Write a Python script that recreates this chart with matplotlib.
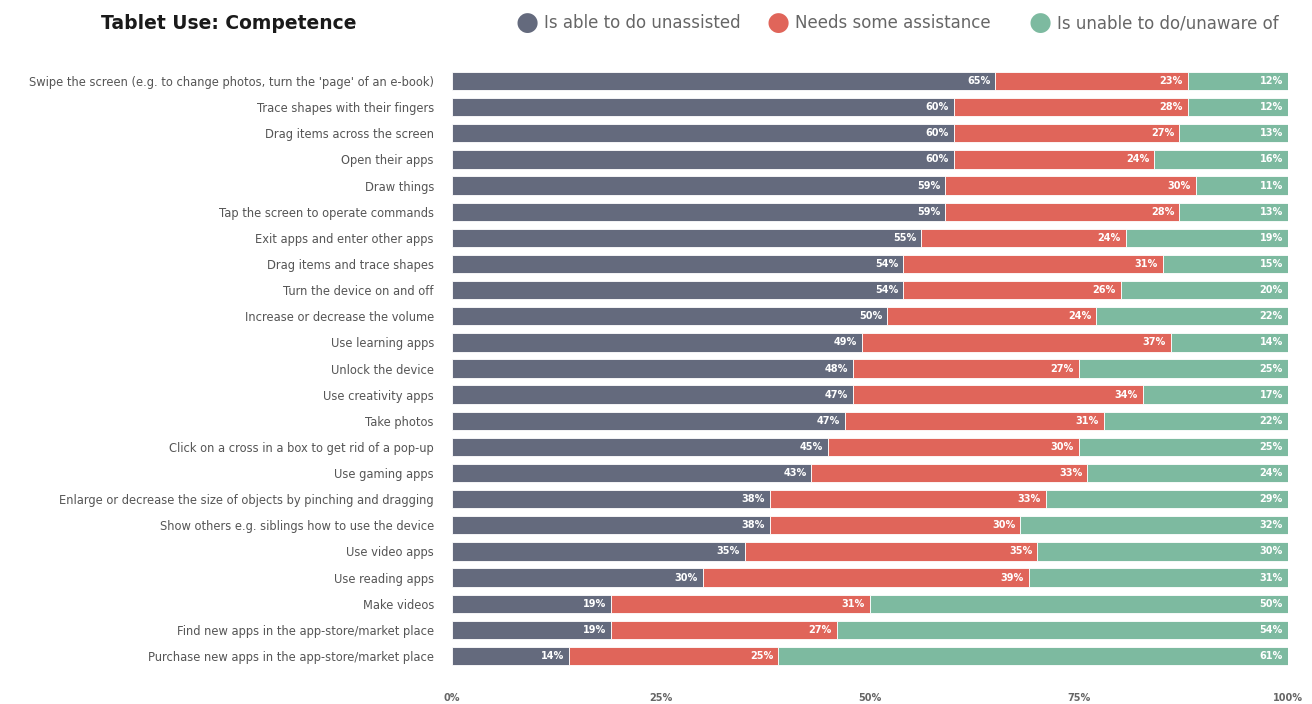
import numpy as np
import matplotlib.pyplot as plt

tasks = [
    "Swipe the screen (e.g. to change photos, turn the 'page' of an e-book)",
    "Trace shapes with their fingers",
    "Drag items across the screen",
    "Open their apps",
    "Draw things",
    "Tap the screen to operate commands",
    "Exit apps and enter other apps",
    "Drag items and trace shapes",
    "Turn the device on and off",
    "Increase or decrease the volume",
    "Use learning apps",
    "Unlock the device",
    "Use creativity apps",
    "Take photos",
    "Click on a cross in a box to get rid of a pop-up",
    "Use gaming apps",
    "Enlarge or decrease the size of objects by pinching and dragging",
    "Show others e.g. siblings how to use the device",
    "Use video apps",
    "Use reading apps",
    "Make videos",
    "Find new apps in the app-store/market place",
    "Purchase new apps in the app-store/market place",
]
unassisted = [65, 60, 60, 60, 59, 59, 55, 54, 54, 50, 49, 48, 47, 47, 45, 43, 38, 38, 35, 30, 19, 19, 14]
some_help = [23, 28, 27, 24, 30, 28, 24, 31, 26, 24, 37, 27, 34, 31, 30, 33, 33, 30, 35, 39, 31, 27, 25]
unable = [12, 12, 13, 16, 11, 13, 19, 15, 20, 22, 14, 25, 17, 22, 25, 24, 29, 32, 30, 31, 50, 54, 61]

series = ["Is able to do unassisted", "Needs some assistance", "Is unable to do/unaware of"]
colors = ["#646a7d", "#e0655a", "#7dbaa0"]

vals = np.array([unassisted, some_help, unable], dtype=float)
# each row fills the full bar, as in the original graphic
widths = vals / vals.sum(axis=0) * 100

fig = plt.figure(figsize=(13.12, 7.04), dpi=100)
ax = fig.add_axes([0.3445, 0.0497, 0.6372, 0.8537])

y = np.arange(len(tasks))
left = np.zeros(len(tasks))
for i in range(3):
    ax.barh(y, widths[i], left=left, height=0.7, color=colors[i],
            edgecolor="white", linewidth=0.6)
    for yy, l, w, v in zip(y, left, widths[i], vals[i]):
        ax.text(l + w - 0.6, yy, f"{int(v)}%", ha="right", va="center",
                color="white", fontsize=7, fontweight="bold")
    left = left + widths[i]

ax.set_ylim(len(tasks) - 0.5, -0.5)
ax.set_xlim(0, 100)
ax.set_yticks(y)
ax.set_yticklabels(tasks, fontsize=8.3, color="#555555")
ax.set_xticks([0, 25, 50, 75, 100])
ax.set_xticklabels(["0%", "25%", "50%", "75%", "100%"], fontsize=7,
                   fontweight="bold", color="#666666")
ax.tick_params(axis="y", length=0, pad=13)
ax.tick_params(axis="x", length=0, pad=17)
for s in ax.spines.values():
    s.set_visible(False)

fig.text(0.174, 0.967, "Tablet Use: Competence", ha="center", va="center",
         fontsize=13.5, fontweight="bold", color="#1a1a1a")

leg_x = [0.402, 0.593, 0.793]
for x, lab, c in zip(leg_x, series, colors):
    fig.text(x, 0.967, "\u25cf", ha="center", va="center", fontsize=19, color=c)
    fig.text(x + 0.013, 0.967, lab, ha="left", va="center", fontsize=12,
             color="#666666")

fig.savefig("out.png", dpi=100)
